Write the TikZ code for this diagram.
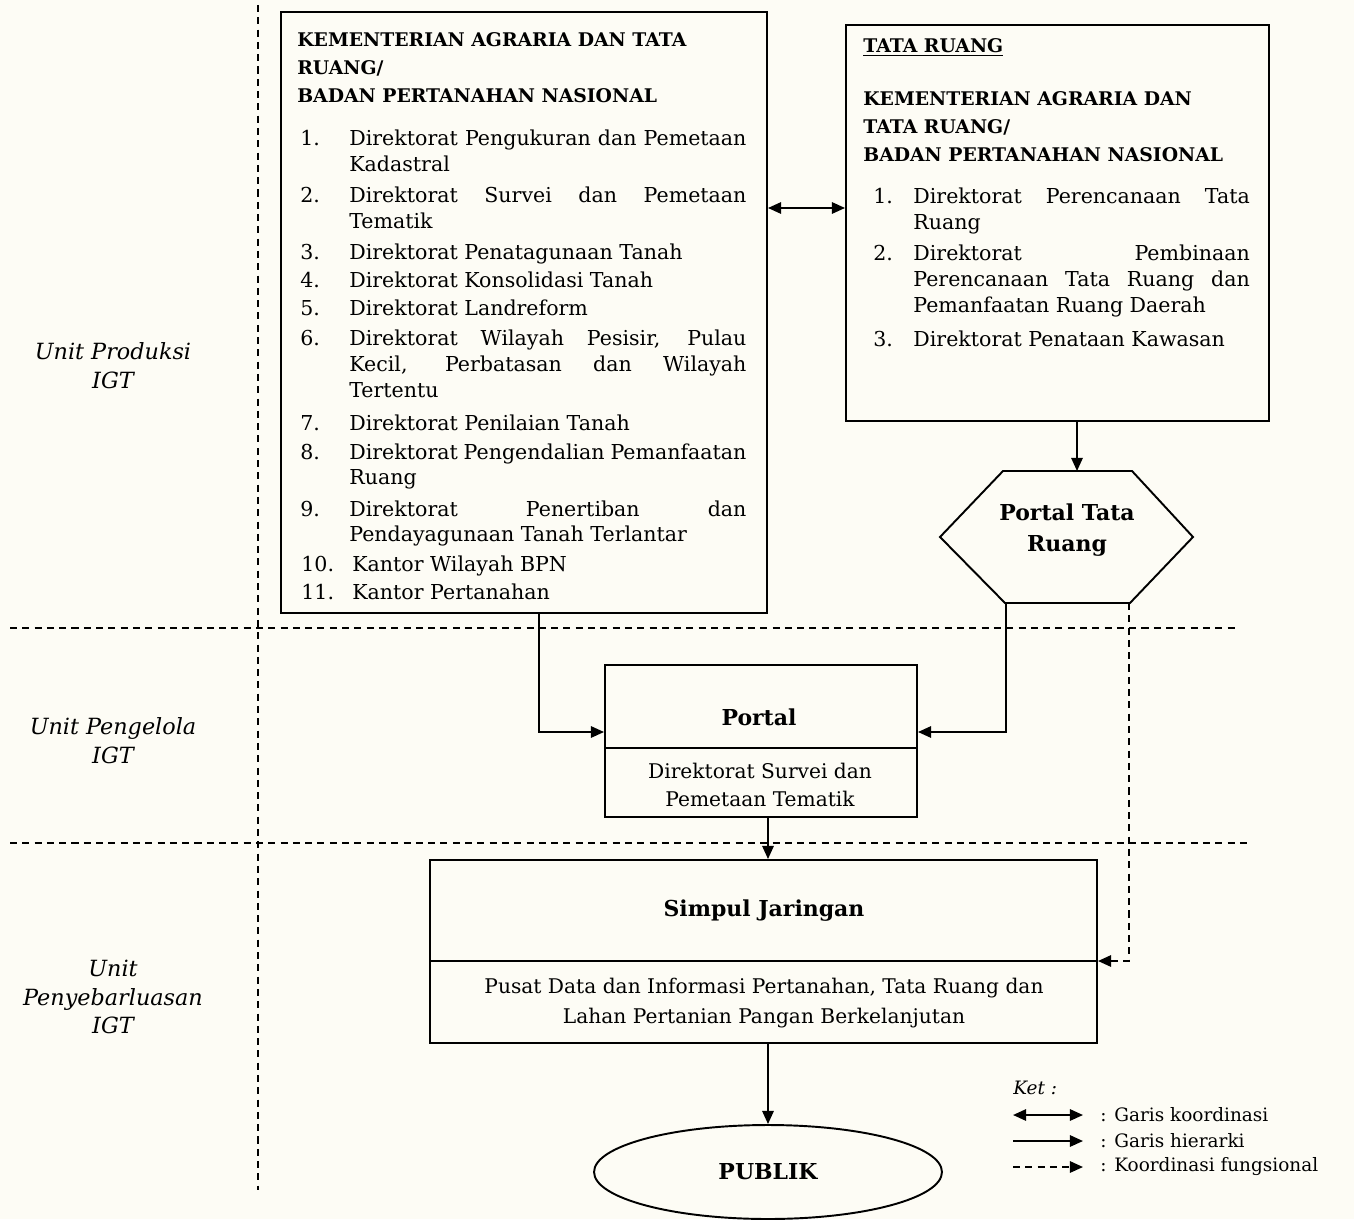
\documentclass[tikz,border=0pt]{standalone}
\usepackage{fontspec}
\setmainfont{DejaVu Serif}
\usetikzlibrary{arrows.meta,shapes.geometric,fit,calc}
\definecolor{paper}{RGB}{253,252,245}
\newcommand\jl[2]{\makebox[#1][s]{#2}}
\newcommand\lw{226pt}
\newcommand\rw{191.5pt}
\newcommand\hdbox[1]{\parbox[t]{240pt}{\raggedright #1}}
\begin{document}
\begin{tikzpicture}[x=0.02cm,y=-0.02cm,
  box/.style={draw, line width=1.1pt, inner sep=0pt},
  arr/.style={-{Triangle[length=7.5pt,width=6.5pt]}, line width=1.1pt},
  biarr/.style={{Triangle[length=7.5pt,width=6.5pt]}-{Triangle[length=7.5pt,width=6.5pt]}, line width=1.1pt},
  fun/.style={arr, dash pattern=on 4pt off 3pt},
  sepline/.style={line width=1.1pt, dash pattern=on 4pt off 3pt},
  txt/.style={inner sep=0pt, anchor=base west, font=\fontsize{11.7}{14.7}\selectfont},
  hd/.style={inner sep=0pt, anchor=base west, font=\fontsize{10.7}{15.9}\selectfont\bfseries},
  ctxt/.style={inner sep=0pt, align=center, font=\fontsize{11.5}{16}\selectfont},
  btxt/.style={inner sep=0pt, align=center, font=\fontsize{12.5}{17.5}\selectfont\bfseries},
  lab/.style={inner sep=0pt, align=center, font=\fontsize{12.7}{16.4}\selectfont\itshape},
  leg/.style={inner sep=0pt, anchor=west, font=\fontsize{10.5}{13}\selectfont}]
\useasboundingbox (0,0) rectangle (1354,1219);
\fill[paper] (0,0) rectangle (1354,1219);

% separators
\draw[sepline] (258,5) -- (258,1190);
\draw[sepline] (10,628) -- (1238,628);
\draw[sepline] (10,843) -- (1250,843);

% left labels
\node[lab] (u1) at (113,366) {Unit Produksi\\IGT};
\node[lab] (u2) at (113,741) {Unit Pengelola\\IGT};
\node[lab] (u3) at (113,997) {Unit\\Penyebarluasan\\IGT};

% left box
\node[box, fit={(281,12) (767,613)}] (L) {};
\node[hd] (Lh) at (297,47) {\hdbox{KEMENTERIAN AGRARIA DAN TATA\\RUANG/\\BADAN PERTANAHAN NASIONAL}};
\node[txt] (n1) at (300,146) {1.};
\node[txt] (t1) at (349,146) {\parbox[t]{\lw}{\jl{\lw}{Direktorat Pengukuran dan Pemetaan}\\Kadastral}};
\node[txt] (n2) at (300,203) {2.};
\node[txt] (t2) at (349,203) {\parbox[t]{\lw}{\jl{\lw}{Direktorat Survei dan Pemetaan}\\Tematik}};
\node[txt] (n3) at (300,260) {3.};
\node[txt] (t3) at (349,260) {Direktorat Penatagunaan Tanah};
\node[txt] (n4) at (300,288) {4.};
\node[txt] (t4) at (349,288) {Direktorat Konsolidasi Tanah};
\node[txt] (n5) at (300,316) {5.};
\node[txt] (t5) at (349,316) {Direktorat Landreform};
\node[txt] (n6) at (300,346) {6.};
\node[txt] (t6) at (349,346) {\parbox[t]{\lw}{\jl{\lw}{Direktorat Wilayah Pesisir, Pulau}\\\jl{\lw}{Kecil, Perbatasan dan Wilayah}\\Tertentu}};
\node[txt] (n7) at (300,430) {7.};
\node[txt] (t7) at (349,430) {Direktorat Penilaian Tanah};
\node[txt] (n8) at (300,459) {8.};
\node[txt] (t8) at (349,459) {\parbox[t]{\lw}{\jl{\lw}{Direktorat Pengendalian Pemanfaatan}\\Ruang}};
\node[txt] (n9) at (300,516) {9.};
\node[txt] (t9) at (349,516) {\parbox[t]{\lw}{\jl{\lw}{Direktorat Penertiban dan}\\Pendayagunaan Tanah Terlantar}};
\node[txt] (n10) at (301,571) {10.};
\node[txt] (t10) at (352,571) {Kantor Wilayah BPN};
\node[txt] (n11) at (301,599) {11.};
\node[txt] (t11) at (352,599) {Kantor Pertanahan};

% right box
\node[box, fit={(846,25) (1269,421)}] (R) {};
\node[hd] (Rh0) at (863,53) {\underline{TATA RUANG}};
\node[hd] (Rh) at (863,106) {\hdbox{KEMENTERIAN AGRARIA DAN\\TATA RUANG/\\BADAN PERTANAHAN NASIONAL}};
\node[txt] (r1) at (873,204) {1.};
\node[txt] (s1) at (913,204) {\parbox[t]{\rw}{\jl{\rw}{Direktorat Perencanaan Tata}\\Ruang}};
\node[txt] (r2) at (873,261) {2.};
\node[txt] (s2) at (913,261) {\parbox[t]{\rw}{\jl{\rw}{Direktorat Pembinaan}\\\jl{\rw}{Perencanaan Tata Ruang dan}\\Pemanfaatan Ruang Daerah}};
\node[txt] (r3) at (873,347) {3.};
\node[txt] (s3) at (913,347) {Direktorat Penataan Kawasan};

% hexagon
\draw[line width=1.1pt] (1003,471) -- (1132,471) -- (1193,537) -- (1130,603) -- (1005,603) -- (940,537) -- cycle;
\node[btxt] (H) at (1067,530) {Portal Tata\\Ruang};
\coordinate (hexT) at (1077,471);
\coordinate (hexBL) at (1006,603);
\coordinate (hexBR) at (1129,603);

% portal
\node[box, fit={(605,665) (917,817)}] (P) {};
\coordinate (yPd) at (0,748);
\draw[line width=1.1pt] (P.west |- yPd) -- (P.east |- yPd);
\node[btxt] (Pt) at (759,717) {Portal};
\node[ctxt] (Ps) at (760,785) {Direktorat Survei dan\\Pemetaan Tematik};

% simpul
\node[box, fit={(430,860) (1097,1043)}] (S) {};
\coordinate (ySd) at (0,961);
\draw[line width=1.1pt] (S.west |- ySd) -- (S.east |- ySd);
\node[btxt] (St) at (764,911) {Simpul Jaringan};
\node[ctxt, font=\fontsize{11.5}{17}\selectfont] (Ss) at (764,1003) {Pusat Data dan Informasi Pertanahan, Tata Ruang dan\\Lahan Pertanian Pangan Berkelanjutan};

% publik
\node[ellipse, draw, line width=1.1pt, minimum width=6.96cm, minimum height=1.88cm, inner sep=0pt, font=\fontsize{12.5}{15}\selectfont\bfseries] (pub) at (768,1172) {PUBLIK};

% connectors
\coordinate (yK) at (0,208);
\draw[biarr] (L.east |- yK) -- (R.west |- yK);
\draw[arr] (R.south -| hexT) -- (hexT);
\coordinate (xL) at (539,0);
\coordinate (yP) at (0,732);
\draw[arr] (L.south -| xL) |- (P.west |- yP);
\draw[arr] (hexBL) |- (P.east |- yP);
\draw[fun] (hexBR) |- (S.east |- ySd);
\coordinate (xC) at (768,0);
\draw[arr] (P.south -| xC) -- (S.north -| xC);
\draw[arr] (S.south -| xC) -- (pub.north);

% legend
\node[leg, font=\fontsize{10.5}{13}\selectfont\itshape] (ket) at (1013,1088) {Ket :};
\coordinate (a1) at (1013,1115); \coordinate (b1) at (1083,1115);
\coordinate (a2) at (1013,1141); \coordinate (b2) at (1083,1141);
\coordinate (a3) at (1013,1167); \coordinate (b3) at (1083,1167);
\draw[biarr] (a1) -- (b1);
\draw[arr] (a2) -- (b2);
\draw[fun] (a3) -- (b3);
\node[leg] (k1) at (1100,1115) {: Garis koordinasi};
\node[leg] (k2) at (1100,1141) {: Garis hierarki};
\node[leg] (k3) at (1100,1167) {: Koordinasi fungsional};
\end{tikzpicture}
\end{document}
